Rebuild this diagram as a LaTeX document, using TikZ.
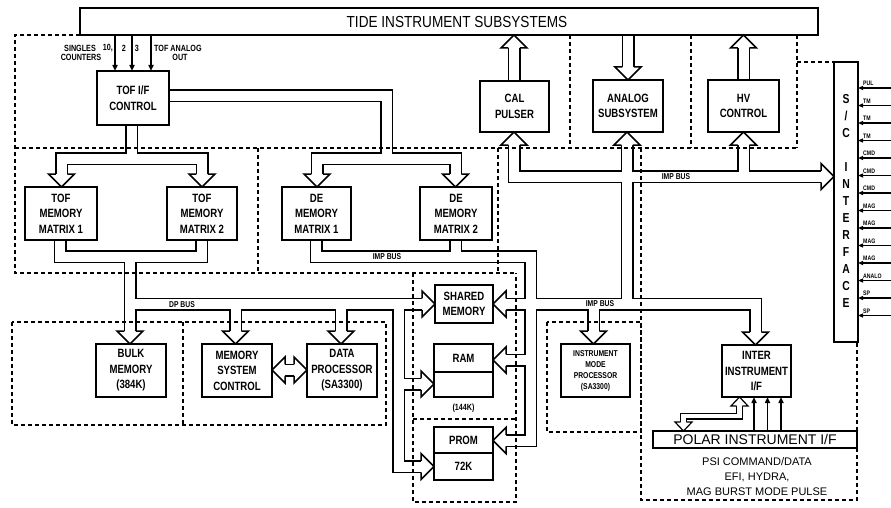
\documentclass[tikz,border=0pt]{standalone}
\usepackage{fontspec}
\setmainfont{Liberation Sans}[FakeStretch=0.8]
\newfontfamily\widefont{Liberation Sans}[FakeStretch=0.85]
\newfontfamily\normfont{Liberation Sans}
\usetikzlibrary{arrows.meta}
\newcommand\buslist{%
 \bp (169,96) -- (386.5,96) -- (386.5,158.5);
 \bp (317,174) -- (317,158.5) -- (455.5,158.5) -- (455.5,174);
 \bp (131.5,125) -- (131.5,158.5);
 \bp (61.5,174) -- (61.5,158.5) -- (202,158.5) -- (202,174);
 \bp (60,240) -- (60,256.5) -- (201.5,256.5) -- (201.5,240);
 \bp (130,256.5) -- (130,331);
 \bp (130,304) -- (422,304);
 \bp (235.5,304) -- (235.5,331);
 \bp (341,304) -- (341,331);
 \bp (398.5,304) -- (398.5,466.5) -- (421,466.5);
 \bp (398.5,384) -- (421,384);
 \bp (316,240) -- (316,256.5) -- (530.5,256.5) -- (530.5,440.5) -- (506,440.5);
 \bp (455.5,240) -- (455.5,256.5);
 \bp (530.5,304) -- (506,304);
 \bp (530.5,360) -- (506,360);
 \bp (530.5,304) -- (755.5,304) -- (755.5,332);
 \bp (593.5,304) -- (593.5,331);
 \bp (627,145) -- (627,304);
 \bp (514,145) -- (514,176.5) -- (821,176.5);
 \bp (743.5,176.5) -- (743.5,145);
 \bp (514,81) -- (514,48);
 \bp (628,35) -- (628,67);
 \bp (743.5,80) -- (743.5,48);
 \bp (285,370) -- (294,370);
}
\begin{document}
\begin{tikzpicture}[x=1pt,y=-1pt,
  box/.style={draw, line width=1.8pt, align=center, inner sep=0pt, font=\bfseries\fontsize{12}{15.5}\selectfont},
  dsh/.style={line width=1.2pt, dash pattern=on 4pt off 3pt},
  busb/.style={line width=13pt, line join=miter},
  busw/.style={white, line width=10pt, line join=miter},
  sbusb/.style={line width=7pt, line join=miter},
  sbusw/.style={white, line width=4.6pt, line join=miter},
  sig/.style={line width=1.5pt, -{Triangle[length=6pt,width=5pt]}},
  scsig/.style={line width=1.1pt, -{Triangle[length=5pt,width=4pt]}},
  lbl/.style={font=\bfseries\fontsize{9}{10}\selectfont, inner sep=0pt},
  buslbl/.style={font=\bfseries\fontsize{8.5}{9}\selectfont, inner sep=0pt},
  pics/hh/.style={code={\filldraw[fill=white, line width=1.5pt, line join=miter] (-13,5.75) -- (-13,13) -- (0,0) -- (-13,-13) -- (-13,-5.75);}},
  pics/shh/.style={code={\filldraw[fill=white, line width=1.2pt, line join=miter] (-9,2.9) -- (-9,8.5) -- (0,0) -- (-9,-8.5) -- (-9,-2.9);}},
]
\useasboundingbox (0,0) rectangle (891,508);

% buses: black pass then white pass
\def\bp{\draw[busb]}\buslist
\draw[sbusb] (739.5,406) -- (739.5,416) -- (683.5,416) -- (683.5,422);
\def\bp{\draw[busw]}\buslist
\draw[sbusw] (739.5,406) -- (739.5,416) -- (683.5,416) -- (683.5,422);

% dashed region borders
\draw[dsh] (80,35) -- (15,35) -- (15,273) -- (516,273);
\draw[dsh] (15,148) -- (797,148);
\draw[dsh] (570,35) -- (570,148);
\draw[dsh] (691,35) -- (691,148);
\draw[dsh] (797,35) -- (797,148);
\draw[dsh] (797,62) -- (834,62);
\draw[dsh] (258,148) -- (258,273);
\draw[dsh] (498,148) -- (498,273);
\draw[dsh] (413,273) -- (413,502) -- (516,502) -- (516,273);
\draw[dsh] (413,419) -- (516,419);
\draw[dsh] (12,322) rectangle (386,425);
\draw[dsh] (183,322) -- (183,425);
\draw[dsh] (547,322) rectangle (641,432);
\draw[dsh] (641,148) -- (641,500) -- (857,500) -- (857,342);

% hollow heads
\foreach \p in {(317,187),(455.5,187),(61.5,187),(202,187),(130,344),(235.5,344),(341,344),(755.5,345),(593.5,344),(628,80)}
  \pic[rotate=270] at \p {hh};
\foreach \p in {(435,304),(434,384),(434,466.5),(834,176.5),(307,370)}
  \pic at \p {hh};
\foreach \p in {(493,304),(493,360),(493,440.5),(272,370)}
  \pic[rotate=180] at \p {hh};
\foreach \p in {(514,132),(627,132),(743.5,132),(514,35),(743.5,35)}
  \pic[rotate=90] at \p {hh};
\pic[rotate=90] at (739.5,397) {shh};
\pic[rotate=270] at (683.5,431) {shh};

% boxes
\node[box, minimum width=738pt, minimum height=27pt, font=\widefont\fontsize{16}{18}\selectfont] (tide) at (449,21.5) {\hspace*{16pt}TIDE INSTRUMENT SUBSYSTEMS};
\node[box, minimum width=72pt, minimum height=54pt] (tofc) at (133,98) {TOF I/F\\CONTROL};
\node[box, minimum width=69pt, minimum height=51pt] (cal) at (514.5,106.5) {CAL\\PULSER};
\node[box, minimum width=70pt, minimum height=52pt] (analog) at (628,106) {ANALOG\\SUBSYSTEM};
\node[box, minimum width=71pt, minimum height=52pt] (hv) at (743.5,106) {HV\\CONTROL};
\node[box, minimum width=72pt, minimum height=53pt] (tof1) at (61,213.5) {TOF\\MEMORY\\MATRIX 1};
\node[box, minimum width=70pt, minimum height=53pt] (tof2) at (202,213.5) {TOF\\MEMORY\\MATRIX 2};
\node[box, minimum width=69pt, minimum height=53pt] (de1) at (316.5,213.5) {DE\\MEMORY\\MATRIX 1};
\node[box, minimum width=72pt, minimum height=53pt] (de2) at (456,213.5) {DE\\MEMORY\\MATRIX 2};
\node[box, minimum width=58pt, minimum height=38pt] (shared) at (464,304) {SHARED\\MEMORY};
\node[box, minimum width=70pt, minimum height=53pt] (bulk) at (131,370.5) {BULK\\MEMORY\\(384K)};
\node[box, minimum width=70pt, minimum height=53pt] (msc) at (237,370.5) {MEMORY\\SYSTEM\\CONTROL};
\node[box, minimum width=70pt, minimum height=53pt] (dp) at (342,370.5) {DATA\\PROCESSOR\\(SA3300)};
\node[box, minimum width=59pt, minimum height=53pt] (ram) at (463.5,370.5) {};
\draw[line width=1.8pt] (ram.west |- 0,372) -- (ram.east |- 0,372);
\node[font=\bfseries\fontsize{12}{14}\selectfont] (ramt) at (463.5,358) {RAM};
\node[lbl] (ramsz) at (463.5,408) {(144K)};
\node[box, minimum width=59pt, minimum height=53pt] (prom) at (463.5,453.5) {};
\draw[line width=1.8pt] (prom.west |- 0,453) -- (prom.east |- 0,453);
\node[font=\bfseries\fontsize{12}{14}\selectfont] (promt) at (463.5,440) {PROM};
\node[font=\bfseries\fontsize{12}{14}\selectfont] (proms) at (463.5,466.5) {72K};
\node[box, minimum width=69pt, minimum height=53pt, font=\bfseries\fontsize{8.5}{11}\selectfont] (imp) at (595.5,370.5) {INSTRUMENT\\MODE\\PROCESSOR\\(SA3300)};
\node[box, minimum width=69pt, minimum height=52pt] (inter) at (756.5,371) {INTER\\INSTRUMENT\\I/F};
\node[box, minimum width=204pt, minimum height=17pt, line width=1.6pt, font=\normfont\fontsize{14}{16}\selectfont] (polar) at (755,439.5) {POLAR INSTRUMENT I/F};
\node[font=\normfont\fontsize{11}{15}\selectfont, align=center, inner sep=0pt] (psi) at (757,477) {PSI COMMAND/DATA\\EFI, HYDRA,\\MAG BURST MODE PULSE};
\node[box, minimum width=24pt, minimum height=280pt] (sc) at (846,202) {};
\node[font=\bfseries\fontsize{13}{17}\selectfont, align=center, inner sep=0pt] (sct) at (846,200.5) {S\\/\\C\\[17pt]I\\N\\T\\E\\R\\F\\A\\C\\E};

% thin signal arrows
\foreach \xx in {115,132,151} \draw[sig] (\xx,35) -- (\xx,71);
\foreach \xx in {754,767.5,781} \draw[sig] (\xx,431) -- (\xx,397);

% S/C signal lines
\foreach \i/\t in {0/PUL,1/TM,2/TM,3/TM,4/CMD,5/CMD,6/CMD,7/MAG,8/MAG,9/MAG,10/MAG,11/ANALO,12/SP,13/SP}{
  \pgfmathsetmacro\yy{88+17.5*\i}
  \draw[scsig] (891,\yy) -- (858,\yy);
  \node[font=\bfseries\fontsize{6.5}{7}\selectfont, anchor=south west, inner sep=0pt] at (863,\yy-2) {\t};
}

% labels
\node[lbl] (sing) at (80,48) {SINGLES};
\node[lbl] (cnt) at (81,57) {COUNTERS};
\node[lbl, anchor=east] (l10) at (113,48) {10,};
\node[lbl] (l2) at (124,48) {2};
\node[lbl] (l3) at (137,48) {3};
\node[lbl, anchor=west] (tofa) at (154,48) {TOF ANALOG};
\node[lbl] (out) at (180,57) {OUT};
\node[buslbl] (dpbus) at (182,305) {DP BUS};
\node[buslbl] (imp1) at (387,257) {IMP BUS};
\node[buslbl] (imp2) at (600,304) {IMP BUS};
\node[buslbl] (imp3) at (676,177) {IMP BUS};
\end{tikzpicture}
\end{document}
